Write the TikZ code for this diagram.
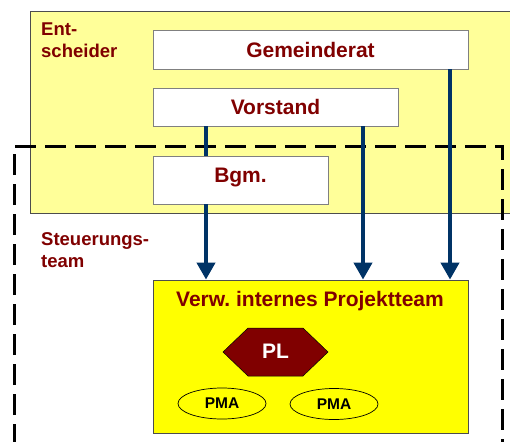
\documentclass[tikz,border=0pt]{standalone}
\usepackage{fontspec}
\setmainfont{Liberation Sans}
\usetikzlibrary{calc, shapes.geometric, positioning, arrows.meta}
\definecolor{paleyellow}{HTML}{FFFF99}
\definecolor{teamyellow}{HTML}{FFFF00}
\definecolor{darkred}{HTML}{800000}
\definecolor{navy}{HTML}{003366}
\definecolor{rimgray}{HTML}{4D4D4D}

\begin{document}
\begin{tikzpicture}[x=1pt,y=-1pt,
  whitebox/.style={draw=gray,fill=white,line width=.8pt,inner sep=0pt,text=darkred,font=\fontsize{21}{24}\selectfont\bfseries},
  grouplabel/.style={anchor=north west,align=left,inner sep=0pt,text=darkred,font=\fontsize{18.5}{21.5}\selectfont\bfseries},
  flow/.style={navy,line width=4pt},
  flowarrow/.style={flow,-{Triangle[width=18pt,length=17pt]}},
  pma/.style={ellipse,draw,fill=teamyellow,line width=.7pt,minimum width=88pt,minimum height=31pt,inner sep=0pt,font=\fontsize{15.5}{18}\selectfont\bfseries}]
\clip (0,0) rectangle (510,441);
\draw[rimgray,fill=paleyellow,line width=.8pt] (30,11) rectangle (515,213);
\node[grouplabel] (entscheider) at (41,23) {Ent-\\scheider};
\draw[black,line width=3pt,dash pattern=on 21pt off 9pt] (14,445) -- (14,146) -- (502,146) -- (502,445);
\node[whitebox,minimum width=315pt,minimum height=39pt] (gemeinderat) at (310.5,49.5) {Gemeinderat};
\node[whitebox,minimum width=245pt,minimum height=38pt] (vorstand) at (275.5,107) {Vorstand};
\node[whitebox,minimum width=175pt,minimum height=48pt,text height=15pt,text depth=11pt] (bgm) at (240.5,180) {Bgm.};
\node[grouplabel,font=\fontsize{18.5}{22}\selectfont\bfseries] (steuerung) at (41,232) {Steuerungs-\\team};
\node[draw=rimgray,fill=teamyellow,line width=.8pt,minimum width=315pt,minimum height=153pt] (team) at (310.5,356.5) {};
\node[anchor=base,text=darkred,font=\fontsize{21}{24}\selectfont\bfseries] (teamtitle) at (310,306) {Verw.\ internes Projektteam};
\fill[darkred] (223,352) -- (248,328) -- (303,328) -- (328,352) -- (303,376) -- (248,376) -- cycle;
\draw[black,line width=.5pt] (223,352) -- (248,328) -- (303,328) -- (328,352) -- (303,376) -- (248,376) -- cycle;
\node[text=white,font=\fontsize{21}{24}\selectfont\bfseries] (pl) at (275.5,351) {PL};
\node[pma] (pma1) at (222,403.5) {PMA};
\node[pma] (pma2) at (334,404) {PMA};
\coordinate (left) at (206,0);
\coordinate (mid) at (363,0);
\coordinate (right) at (450,0);
\draw[flow] (vorstand.south -| left) -- (bgm.north -| left);
\draw[flowarrow] (bgm.south -| left) -- (team.north -| left);
\draw[flowarrow] (vorstand.south -| mid) -- (team.north -| mid);
\draw[flowarrow] (gemeinderat.south -| right) -- (team.north -| right);
\end{tikzpicture}
\end{document}
